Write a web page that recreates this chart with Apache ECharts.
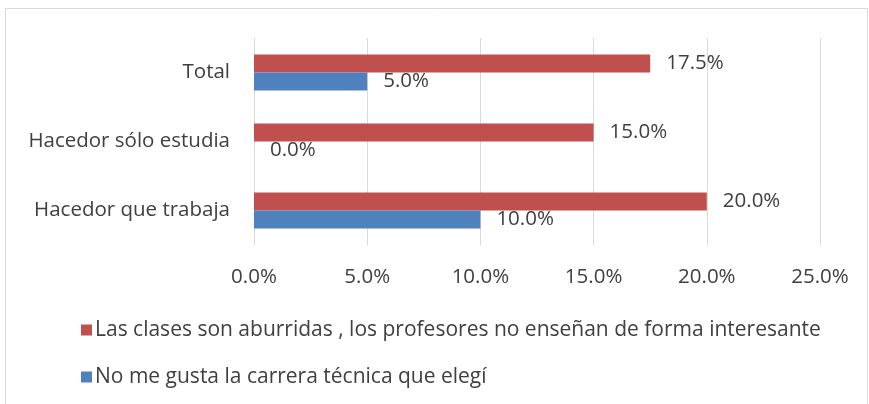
<!DOCTYPE html>
<html>
<head>
<meta charset="utf-8">
<script src="https://cdn.jsdelivr.net/npm/echarts@6/dist/echarts.min.js"></script>
<style>
  html, body { margin: 0; padding: 0; background: #fff; }
  #chart { width: 869px; height: 404px; }
</style>
</head>
<body>
<div id="chart"></div>
<script>
// categories bottom -> top (as the category axis draws them)
const categories = ["Hacedor que trabaja", "Hacedor sólo estudia", "Total"];
const seriesNames = [
  "Las clases son aburridas , los profesores no enseñan de forma interesante",
  "No me gusta la carrera técnica que elegí"
];
const aburridas = [20.0, 15.0, 17.5];
const noGusta = [10.0, 0.0, 5.0];
const xTicks = [0, 5, 10, 15, 20, 25];

const font = "'Open Sans', sans-serif";
const txt = "#404040";
const fs = 20.5;

const chart = echarts.init(document.getElementById("chart"));

const labelOpt = {
  show: true,
  position: "right",
  distance: 16,
  color: txt,
  fontSize: fs,
  fontFamily: font,
  formatter: p => p.value.toFixed(1) + "%"
};

chart.setOption({
  animation: false,
  graphic: [{
    type: "rect",
    shape: { x: 5.5, y: 8.5, width: 862, height: 400 },
    style: { fill: "none", stroke: "#d9d9d9", lineWidth: 1 },
    z: -1
  }],
  grid: { left: 254, right: 49, top: 38, bottom: 159 },
  legend: {
    data: seriesNames,
    orient: "vertical",
    left: 76,
    top: 313,
    itemWidth: 11,
    itemHeight: 11,
    itemGap: 23,
    icon: "rect",
    textStyle: { color: txt, fontSize: 21, fontFamily: font, lineHeight: 24, padding: [0, 0, 0, -2] }
  },
  xAxis: {
    type: "value",
    min: xTicks[0],
    max: xTicks[xTicks.length - 1],
    interval: 5,
    axisLine: { show: false },
    axisTick: { show: false },
    splitLine: { lineStyle: { color: "#d9d9d9", width: 1 } },
    axisLabel: {
      color: txt, fontSize: fs, fontFamily: font, margin: 22,
      formatter: v => v.toFixed(1) + "%"
    }
  },
  yAxis: {
    type: "category",
    data: categories,
    axisLine: { show: false },
    axisTick: { show: false },
    axisLabel: { color: txt, fontSize: fs, fontFamily: font, margin: 24 }
  },
  series: [
    {
      name: seriesNames[0],
      type: "bar",
      data: aburridas,
      barWidth: 18,
      barGap: "0%",
      itemStyle: { color: "#c0504d" },
      label: labelOpt
    },
    {
      name: seriesNames[1],
      type: "bar",
      data: noGusta,
      barWidth: 18,
      barGap: "0%",
      itemStyle: { color: "#4f81bd" },
      label: labelOpt
    }
  ]
});
</script>
</body>
</html>
